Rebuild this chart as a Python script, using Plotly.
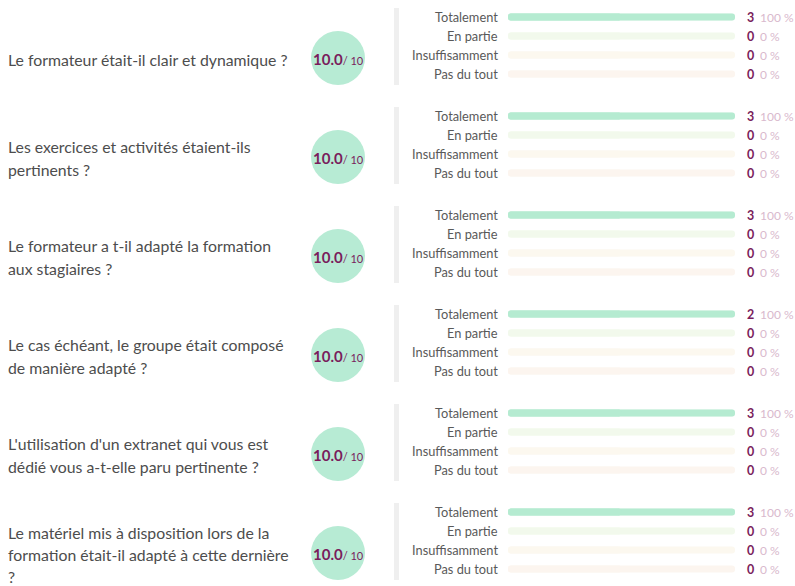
import plotly.graph_objects as go

# ---------------- data ----------------
questions = [
    ["Le formateur était-il clair et dynamique ?"],
    ["Les exercices et activités étaient-ils", "pertinents ?"],
    ["Le formateur a t-il adapté la formation", "aux stagiaires ?"],
    ["Le cas échéant, le groupe était composé", "de manière adapté ?"],
    ["L'utilisation d'un extranet qui vous est", "dédié vous a-t-elle paru pertinente ?"],
    ["Le matériel mis à disposition lors de la", "formation était-il adapté à cette dernière", "?"],
]
levels = ["Totalement", "En partie", "Insuffisamment", "Pas du tout"]
counts = [
    [3, 0, 0, 0],
    [3, 0, 0, 0],
    [3, 0, 0, 0],
    [2, 0, 0, 0],
    [3, 0, 0, 0],
    [3, 0, 0, 0],
]
scores = [10.0, 10.0, 10.0, 10.0, 10.0, 10.0]
score_max = 10

# ---------------- style ----------------
W, H = 795, 586
FONT = "Lato"
bar_colors = ["#b5ebd1", "#b5ebd1", "#b5ebd1", "#b5ebd1"]
track_colors = ["#eaf6ee", "#f2f9ec", "#fcf8ef", "#fcf5ef"]
circle_color = "#b7ebd4"
purple = "#7a1d5c"
pink = "#d9b9cd"
text_gray = "#4d4d4d"
label_gray = "#595959"

block_first_row = 17
block_step = 99
row_step = 19
bar_x0, bar_x1 = 508, 735

fig = go.Figure()
annotations = []
shapes = []

def add_rounded(values, colors):
    # full bar (rounded at right end) + half bar growing leftwards (rounded at left end)
    fig.add_trace(go.Bar(
        x=values, base=[0] * len(values), y=rows_y,
        orientation="h", width=7, marker=dict(color=colors, cornerradius=4, line_width=0),
        xaxis="x2", yaxis="y", hoverinfo="skip", showlegend=False))
    fig.add_trace(go.Bar(
        x=[-v / 2 for v in values], base=[v / 2 for v in values], y=rows_y,
        orientation="h", width=7, marker=dict(color=colors, cornerradius=4, line_width=0),
        xaxis="x2", yaxis="y", hoverinfo="skip", showlegend=False))

for k, (q, cnt, sc) in enumerate(zip(questions, counts, scores)):
    T = block_first_row + block_step * k
    total = sum(cnt)
    rows_y = [T + row_step * i for i in range(len(levels))]
    pct = [100.0 * c / total if total else 0 for c in cnt]

    add_rounded([100] * len(levels), track_colors)
    add_rounded(pct, bar_colors)

    for i, lv in enumerate(levels):
        annotations.append(dict(x=500, y=rows_y[i], xref="x", yref="y", text=lv,
                                xanchor="right", yanchor="middle", showarrow=False,
                                font=dict(family=FONT, size=12.8, color=label_gray)))
        annotations.append(dict(x=756, y=rows_y[i], xref="x", yref="y", text="<b>%d</b>" % cnt[i],
                                xanchor="right", yanchor="middle", showarrow=False,
                                font=dict(family=FONT, size=12.5, color=purple)))
        annotations.append(dict(x=758, y=rows_y[i], xref="x", yref="y", text="%d %%" % round(pct[i]),
                                xanchor="left", yanchor="middle", showarrow=False,
                                font=dict(family=FONT, size=12, color=pink)))

    # gray separator
    shapes.append(dict(type="rect", xref="x", yref="y", x0=394, x1=399, y0=T - 9, y1=T + 68,
                       fillcolor="#efefef", line_width=0, layer="below"))

    # score circle
    cy = T + 41
    fig.add_trace(go.Scatter(x=[338], y=[cy], mode="markers", xaxis="x", yaxis="y",
                             marker=dict(size=54, color=circle_color, line_width=0),
                             hoverinfo="skip", showlegend=False))
    annotations.append(dict(x=338, y=cy + 1, xref="x", yref="y",
                            text="<b>%.1f</b><span style='font-size:11px'>/ %d</span>" % (sc, score_max),
                            xanchor="center", yanchor="middle", showarrow=False,
                            font=dict(family=FONT, size=15, color=purple)))

    # question text
    n = len(q)
    qc = T + 42
    lh = 23 if n < 3 else 22
    for j, line in enumerate(q):
        annotations.append(dict(x=6, y=qc + (j - (n - 1) / 2) * lh, xref="x", yref="y",
                                text=line, xanchor="left", yanchor="middle", showarrow=False,
                                font=dict(family=FONT, size=15.8, color=text_gray)))

fig.update_layout(
    width=W, height=H, margin=dict(l=0, r=0, t=0, b=0),
    paper_bgcolor="white", plot_bgcolor="white",
    barmode="overlay", showlegend=False,
    xaxis=dict(range=[0, W], domain=[0, 1], visible=False, fixedrange=True),
    xaxis2=dict(range=[0, 100], domain=[bar_x0 / W, bar_x1 / W], anchor="y",
                visible=False, fixedrange=True),
    yaxis=dict(range=[H, 0], domain=[0, 1], visible=False, fixedrange=True),
    annotations=annotations, shapes=shapes,
)

fig.write_html("out.html", config={"displayModeBar": False},
               post_script="document.body.style.margin='0';document.body.style.overflow='hidden';")
